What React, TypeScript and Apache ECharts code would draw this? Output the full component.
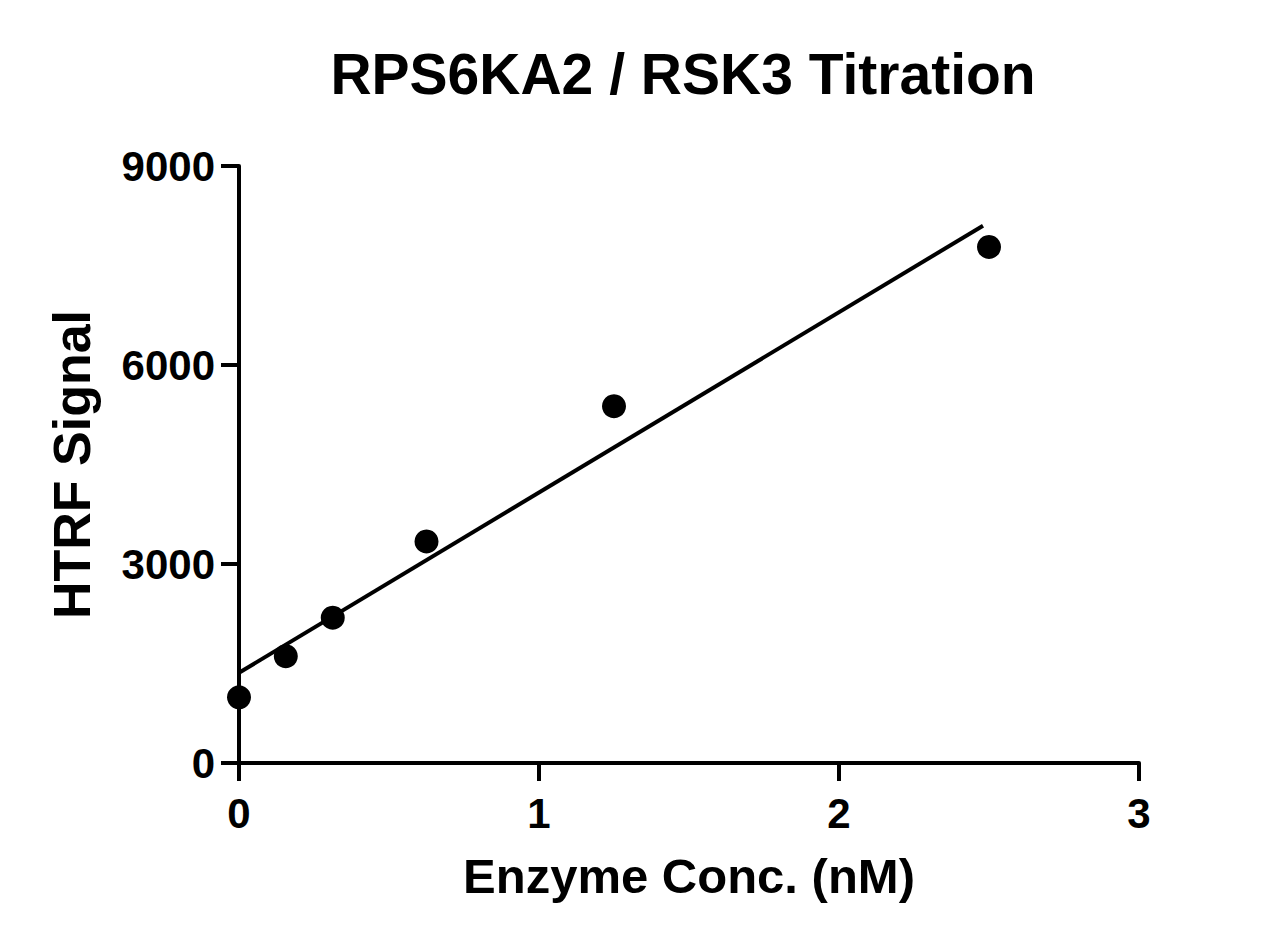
import React, { useEffect, useRef } from "react";
import * as echarts from "echarts";

const titleText = "RPS6KA2 / RSK3 Titration";
const xAxisName = "Enzyme Conc. (nM)";
const yAxisName = "HTRF Signal";

const concX = [0, 0.156, 0.3125, 0.625, 1.25, 2.5];
const signalY = [990, 1610, 2190, 3340, 5380, 7780];

const fitX = [0, 2.48];
const fitY = [1360, 8100];

const FONT = "'Liberation Sans', Arial, Helvetica, sans-serif";

export default function App() {
  const ref = useRef<HTMLDivElement>(null);
  useEffect(() => {
    if (!ref.current) return;
    const chart = echarts.init(ref.current, null, { renderer: "svg" });
    chart.setOption({
      animation: false,
      backgroundColor: "#ffffff",
      graphic: [
        {
          type: "text",
          x: 683,
          y: 45,
          style: {
            text: titleText,
            fontFamily: FONT,
            fontWeight: "bold",
            fontSize: 57,
            fill: "#000",
            textAlign: "center",
            textVerticalAlign: "top",
          },
        },
      ],
      grid: { left: 239, right: 138, top: 166, bottom: 183 },
      xAxis: {
        type: "value",
        min: 0,
        max: 3,
        interval: 1,
        name: xAxisName,
        nameLocation: "middle",
        nameGap: 88,
        nameTextStyle: { fontFamily: FONT, fontWeight: "bold", fontSize: 49, color: "#000" },
        axisLine: { show: true, onZero: false, lineStyle: { color: "#000", width: 4 } },
        axisTick: { show: true, length: 18, lineStyle: { color: "#000", width: 4 } },
        axisLabel: {
          margin: 29,
          fontFamily: FONT,
          fontWeight: "bold",
          fontSize: 42,
          color: "#000",
          formatter: (v: number) => String(v),
        },
        splitLine: { show: false },
      },
      yAxis: {
        type: "value",
        min: 0,
        max: 9000,
        interval: 3000,
        name: yAxisName,
        nameLocation: "middle",
        nameGap: 141,
        nameTextStyle: { fontFamily: FONT, fontWeight: "bold", fontSize: 52, color: "#000" },
        axisLine: { show: true, onZero: false, lineStyle: { color: "#000", width: 4 } },
        axisTick: { show: true, length: 18, lineStyle: { color: "#000", width: 4 } },
        axisLabel: {
          margin: 24,
          fontFamily: FONT,
          fontWeight: "bold",
          fontSize: 42,
          color: "#000",
          formatter: (v: number) => String(v),
        },
        splitLine: { show: false },
      },
      series: [
        {
          type: "line",
          data: fitX.map((x, i) => [x, fitY[i]]),
          symbol: "none",
          lineStyle: { color: "#000", width: 4 },
          z: 2,
        },
        {
          type: "scatter",
          data: concX.map((x, i) => [x, signalY[i]]),
          symbol: "circle",
          symbolSize: 24,
          itemStyle: { color: "#000", opacity: 1 },
          z: 3,
        },
      ],
    });
    return () => chart.dispose();
  }, []);
  return (
    <div
      ref={ref}
      style={{ position: "absolute", left: 0, top: 0, width: 1277, height: 946 }}
    />
  );
}
